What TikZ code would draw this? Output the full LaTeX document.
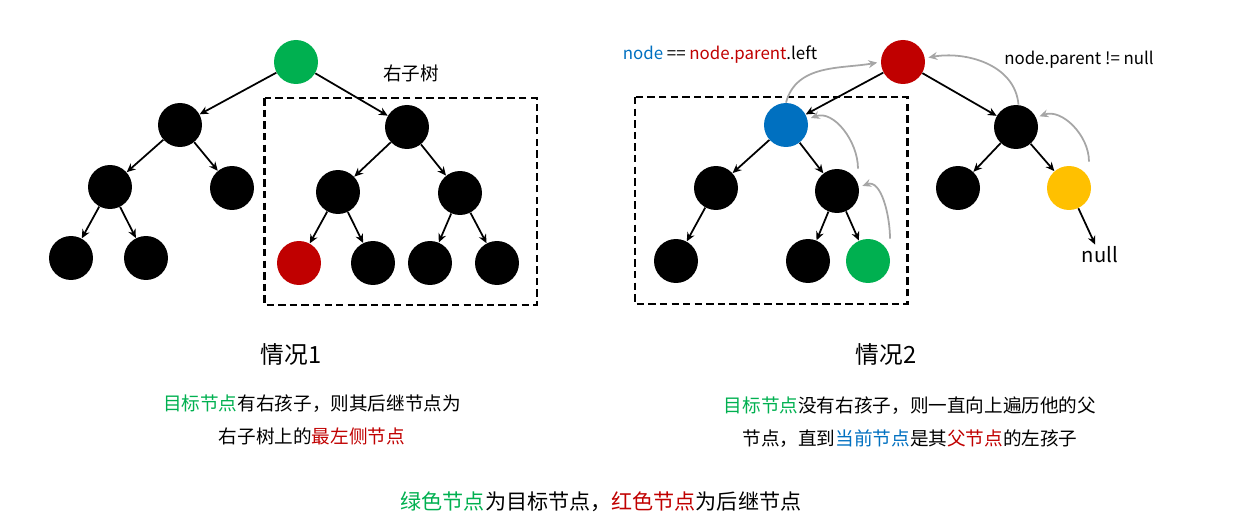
\documentclass[tikz,border=0pt]{standalone}
\usepackage{fontspec}
\setmainfont{Noto Sans CJK SC}
\usetikzlibrary{arrows.meta}
\definecolor{cgreen}{HTML}{00B050}
\definecolor{cred}{HTML}{C00000}
\definecolor{cblue}{HTML}{0070C0}
\definecolor{cyellow}{HTML}{FFC000}
\definecolor{cgray}{HTML}{A6A6A6}
\tikzset{
  tn/.style={circle,fill=black,minimum size=0.88cm,inner sep=0pt},
  link/.style={-{Stealth[length=5pt,width=4.5pt]},line width=1pt},
  upa/.style={-{Stealth[length=5pt,width=4.5pt]},line width=1pt,draw=cgray,shorten >=2pt},
  frame/.style={dash pattern=on 4.2pt off 2.4pt,line width=1.2pt},
  txt/.style={inner sep=0pt,align=center,font=\fontsize{10.6}{18.7}\selectfont}
}
\begin{document}
\begin{tikzpicture}[x=0.02cm,y=0.02cm]
\path[use as bounding box] (0,0) rectangle (1242,531);
\node(A0)[tn,fill=cgreen] at (296,469){};
\node(A1)[tn] at (180,406){};
\node(A2)[tn] at (407,404){};
\node(A3)[tn] at (110,344){};
\node(A4)[tn] at (232,343){};
\node(A5)[tn] at (338,339){};
\node(A6)[tn] at (460,338){};
\node(A7)[tn] at (71,273){};
\node(A8)[tn] at (146,273){};
\node(A9)[tn,fill=cred] at (299,268){};
\node(A10)[tn] at (373,268){};
\node(A11)[tn] at (430,268){};
\node(A12)[tn] at (497,268){};
\draw[frame] (264.5,432.7) rectangle (536.6,226);
\node(RT)[txt] at (411,458){右子树};
\foreach \a/\b in {A0/A1,A0/A2,A1/A3,A1/A4,A3/A7,A3/A8,A2/A5,A2/A6,A5/A9,A5/A10,A6/A11,A6/A12}
  \draw[link] (\a) -- (\b);
\node(B0)[tn,fill=cred] at (903,469){};
\node(B1)[tn,fill=cblue] at (786,406){};
\node(B2)[tn] at (1016,404){};
\node(B3)[tn] at (716,343){};
\node(B4)[tn] at (837,340){};
\node(B5)[tn] at (958,343){};
\node(B6)[tn,fill=cyellow] at (1069,343){};
\node(B7)[tn] at (676,270){};
\node(B8)[tn] at (808,270){};
\node(B9)[tn,fill=cgreen] at (868,270){};
\node(NN)[inner sep=1pt,font=\fontsize{11.5}{13}\selectfont] at (1100,276){null};
\draw[frame] (635,434) rectangle (907.5,227);
\foreach \a/\b in {B0/B1,B0/B2,B1/B3,B1/B4,B3/B7,B4/B8,B4/B9,B2/B5,B2/B6,B6/NN}
  \draw[link] (\a) -- (\b);
\draw[upa] (B1.north) to[out=75,in=190] (B0.west);
\draw[upa] ([xshift=0.44cm]B9.north) to[out=90,in=20] (B4.10);
\draw[upa] ([xshift=0.42cm]B4.north) to[out=90,in=20] (B1.15);
\draw[upa] ([xshift=0.4cm,yshift=0.08cm]B6.north) to[out=90,in=20] (B2.25);
\draw[upa] ([xshift=0.05cm]B2.north) to[out=95,in=10] (B0.10);
\node(EQ)[txt,font=\fontsize{9.6}{11}\selectfont] at (720,476){{\color{cblue}node} == {\color{cred}node.parent}.left};
\node(NE)[txt,font=\fontsize{9.6}{11}\selectfont] at (1079,471){node.parent != null};
\node(C1)[txt,font=\fontsize{13.5}{15}\selectfont] at (291,177){情况1};
\node(C2)[txt,font=\fontsize{13.5}{15}\selectfont] at (886,177){情况2};
\node(D1)[txt] at (312,111.5){{\color{cgreen}目标节点}有右孩子，则其后继节点为\\右子树上的{\color{cred}最左侧节点}};
\node(D2)[txt] at (910,108.5){{\color{cgreen}目标节点}没有右孩子，则一直向上遍历他的父\\节点，直到{\color{cblue}当前节点}是其{\color{cred}父节点}的左孩子};
\node(LG)[txt,font=\fontsize{12}{14}\selectfont] at (601,29){{\color{cgreen}绿色节点}为目标节点，{\color{cred}红色节点}为后继节点};
\end{tikzpicture}
\end{document}
